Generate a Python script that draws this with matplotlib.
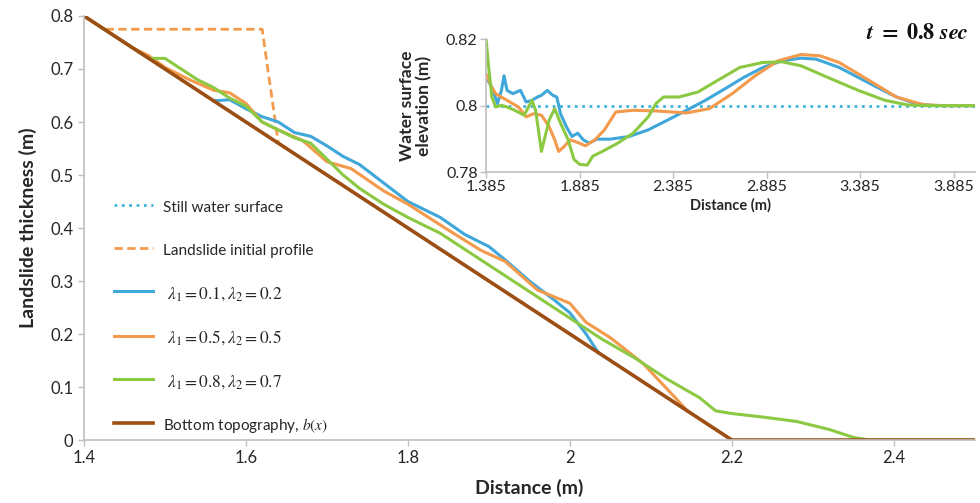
import matplotlib
matplotlib.use("Agg")
import matplotlib.pyplot as plt

plt.rcParams['font.family'] = ['Lato', 'DejaVu Sans']
plt.rcParams['mathtext.fontset'] = 'stix'

# ---------------- main panel data ----------------
bottom_x = [1.40, 2.20, 2.50]
bottom_y = [0.80, 0.00, 0.00]

initial_x = [1.40, 1.425, 1.62, 1.64]
initial_y = [0.80, 0.775, 0.775, 0.56]

blue_x = [1.56, 1.58, 1.60, 1.62, 1.64, 1.66, 1.68, 1.70, 1.72, 1.74, 1.77, 1.80,
          1.84, 1.87, 1.90, 1.92, 1.95, 1.98, 2.00, 2.02, 2.035]
blue_y = [0.640, 0.642, 0.625, 0.610, 0.600, 0.580, 0.573, 0.555, 0.535, 0.520, 0.485, 0.450,
          0.420, 0.388, 0.365, 0.340, 0.300, 0.265, 0.240, 0.200, 0.165]

orange_x = [1.40, 1.46, 1.48, 1.50, 1.53, 1.56, 1.58, 1.60, 1.62, 1.64, 1.67, 1.70, 1.73,
            1.77, 1.80, 1.85, 1.89, 1.92, 1.96, 2.00, 2.02, 2.05, 2.09, 2.13, 2.145]
orange_y = [0.800, 0.740, 0.725, 0.703, 0.680, 0.660, 0.655, 0.635, 0.600, 0.585, 0.565, 0.525, 0.512,
            0.470, 0.445, 0.396, 0.358, 0.337, 0.283, 0.258, 0.222, 0.193, 0.145, 0.080, 0.055]

green_x = [1.40, 1.45, 1.48, 1.50, 1.52, 1.54, 1.56, 1.58, 1.60, 1.62, 1.64, 1.66, 1.68, 1.70,
           1.72, 1.74, 1.77, 1.80, 1.84, 1.88, 1.92, 1.96, 2.00, 2.04, 2.08, 2.12, 2.16, 2.18,
           2.20, 2.24, 2.28, 2.32, 2.35, 2.37, 2.50]
green_y = [0.800, 0.750, 0.720, 0.720, 0.700, 0.680, 0.665, 0.645, 0.630, 0.600, 0.585, 0.570, 0.560, 0.530,
           0.500, 0.475, 0.445, 0.420, 0.390, 0.350, 0.310, 0.270, 0.230, 0.190, 0.155, 0.115, 0.080, 0.055,
           0.050, 0.043, 0.035, 0.020, 0.005, 0.000, 0.000]

main_xticks = [1.4, 1.6, 1.8, 2.0, 2.2, 2.4]
main_xticklabels = ["1.4", "1.6", "1.8", "2", "2.2", "2.4"]
main_yticks = [0.0, 0.1, 0.2, 0.3, 0.4, 0.5, 0.6, 0.7, 0.8]
main_yticklabels = ["0", "0.1", "0.2", "0.3", "0.4", "0.5", "0.6", "0.7", "0.8"]

# ---------------- inset data ----------------
still_x = [1.385, 4.0]
still_y = [0.80, 0.80]

in_blue_x = [1.385, 1.416, 1.446, 1.467, 1.481, 1.497, 1.528, 1.569, 1.599, 1.630, 1.660, 1.681,
             1.712, 1.742, 1.763, 1.783, 1.814, 1.844, 1.875, 1.905, 1.936, 1.977, 2.048, 2.150,
             2.252, 2.354, 2.457, 2.558, 2.660, 2.763, 2.865, 2.967, 3.069, 3.150, 3.273, 3.375,
             3.477, 3.579, 3.681, 3.783, 4.0]
in_blue_y = [0.8085, 0.8055, 0.8006, 0.8046, 0.8090, 0.8046, 0.8036, 0.8046, 0.8011, 0.8016, 0.8026, 0.8031,
             0.8046, 0.8031, 0.8026, 0.7976, 0.7937, 0.7907, 0.7917, 0.7897, 0.7887, 0.7899, 0.7899, 0.7907,
             0.7927, 0.7956, 0.7986, 0.8016, 0.8050, 0.8085, 0.8115, 0.8135, 0.8143, 0.8140, 0.8115, 0.8085,
             0.8055, 0.8026, 0.8006, 0.8000, 0.8000]

in_orange_x = [1.385, 1.416, 1.436, 1.497, 1.558, 1.599, 1.640, 1.681, 1.722, 1.752, 1.773, 1.803,
               1.834, 1.875, 1.916, 1.967, 2.018, 2.079, 2.171, 2.293, 2.457, 2.579, 2.701, 2.824,
               2.946, 3.069, 3.171, 3.273, 3.436, 3.579, 3.722, 3.824, 4.0]
in_orange_y = [0.8095, 0.8055, 0.8036, 0.8016, 0.7996, 0.7966, 0.7976, 0.7971, 0.7937, 0.7897, 0.7862, 0.7877,
               0.7897, 0.7889, 0.7879, 0.7897, 0.7927, 0.7981, 0.7986, 0.7984, 0.7978, 0.7991, 0.8036, 0.8090,
               0.8135, 0.8154, 0.8150, 0.8130, 0.8075, 0.8026, 0.8003, 0.8000, 0.8000]

in_green_x = [1.385, 1.399, 1.416, 1.436, 1.467, 1.497, 1.538, 1.589, 1.630, 1.650, 1.681, 1.722,
              1.752, 1.783, 1.824, 1.855, 1.885, 1.926, 1.956, 2.007, 2.089, 2.171, 2.252, 2.293,
              2.334, 2.416, 2.518, 2.620, 2.742, 2.865, 2.967, 3.069, 3.212, 3.375, 3.518, 3.640,
              3.742, 4.0]
in_green_y = [0.8200, 0.8115, 0.8026, 0.7996, 0.8001, 0.7996, 0.7986, 0.7971, 0.8016, 0.7986, 0.7862, 0.7956,
              0.7991, 0.7947, 0.7897, 0.7838, 0.7823, 0.7821, 0.7848, 0.7862, 0.7887, 0.7917, 0.7966, 0.8006,
              0.8026, 0.8026, 0.8041, 0.8075, 0.8115, 0.8130, 0.8132, 0.8120, 0.8085, 0.8046, 0.8016, 0.8002,
              0.8000, 0.8000]

inset_xticks = [1.385, 1.885, 2.385, 2.885, 3.385, 3.885]
inset_xticklabels = ["1.385", "1.885", "2.385", "2.885", "3.385", "3.885"]
inset_yticks = [0.78, 0.80, 0.82]
inset_yticklabels = ["0.78", "0.8", "0.82"]

labels = ["Still water surface", "Landslide initial profile",
          r"$\ \lambda_1 = 0.1, \lambda_2 = 0.2$",
          r"$\ \lambda_1 = 0.5, \lambda_2 = 0.5$",
          r"$\ \lambda_1 = 0.8, \lambda_2 = 0.7$",
          r"Bottom topography, $b(x)$"]

C_BLUE = "#3fa7d9"
C_ORANGE = "#f39a4c"
C_GREEN = "#8cc943"
C_BROWN = "#9c4f14"
C_STILL = "#3fb3dc"
AX_GRAY = "#bfbfbf"
TXT = "#262626"

fig = plt.figure(figsize=(9.8, 5.03), dpi=100)
ax = fig.add_axes([0.0857, 0.1252, 0.909, 0.843])

h_still, = ax.plot([], [], ls=":", color=C_STILL, lw=2)
h_init, = ax.plot(initial_x, initial_y, ls=(0, (3, 1.6)), color=C_ORANGE, lw=2)
h_blue, = ax.plot(blue_x, blue_y, color=C_BLUE, lw=2.2)
h_orange, = ax.plot(orange_x, orange_y, color=C_ORANGE, lw=2.2)
h_green, = ax.plot(green_x, green_y, color=C_GREEN, lw=2.2)
h_bottom, = ax.plot(bottom_x, bottom_y, color=C_BROWN, lw=2.6)

ax.set_xlim(1.4, 2.5)
ax.set_ylim(0, 0.8)
ax.set_xticks(main_xticks)
ax.set_xticklabels(main_xticklabels)
ax.set_yticks(main_yticks)
ax.set_yticklabels(main_yticklabels)
for s in ["top", "right"]:
    ax.spines[s].set_visible(False)
for s in ["left", "bottom"]:
    ax.spines[s].set_color(AX_GRAY)
    ax.spines[s].set_linewidth(1.2)
ax.tick_params(axis="both", colors=AX_GRAY, labelcolor=TXT, labelsize=12, length=4, width=1)
ax.set_xlabel("Distance (m)", fontsize=14, fontweight="bold", color=TXT, labelpad=9)
ax.set_ylabel("Landslide thickness (m)", fontsize=14, fontweight="bold", color=TXT, labelpad=10)

leg = ax.legend([h_still, h_init, h_blue, h_orange, h_green, h_bottom], labels,
                loc="upper left", bbox_to_anchor=(0.018, 0.602), frameon=False,
                fontsize=11, labelspacing=1.66, handlelength=2.55, handletextpad=0.65,
                handleheight=1.4)
for i, t in enumerate(leg.get_texts()):
    t.set_color(TXT)
    if i in (2, 3, 4):
        t.set_fontsize(12.5)

# ---------------- inset ----------------
ins = fig.add_axes([0.496, 0.658, 0.499, 0.264])
ins.patch.set_alpha(0)
ins.plot(still_x, still_y, ls=":", color=C_STILL, lw=2)
ins.plot(in_blue_x, in_blue_y, color=C_BLUE, lw=2.2)
ins.plot(in_orange_x, in_orange_y, color=C_ORANGE, lw=2.2)
ins.plot(in_green_x, in_green_y, color=C_GREEN, lw=2.2)
ins.set_xlim(1.385, 4.0)
ins.set_ylim(0.78, 0.82)
ins.set_xticks(inset_xticks)
ins.set_xticklabels(inset_xticklabels)
ins.set_yticks(inset_yticks)
ins.set_yticklabels(inset_yticklabels)
for s in ["top", "right"]:
    ins.spines[s].set_visible(False)
for s in ["left", "bottom"]:
    ins.spines[s].set_color(AX_GRAY)
    ins.spines[s].set_linewidth(1.2)
ins.tick_params(axis="both", colors=AX_GRAY, labelcolor=TXT, labelsize=11.5, length=4, width=1,
                pad=2)
ins.set_xlabel("Distance (m)", fontsize=10.5, fontweight="bold", color=TXT, labelpad=3)
ins.set_ylabel("Water surface\nelevation (m)", fontsize=12.5, fontweight="bold", color=TXT,
               labelpad=10, linespacing=1.05)

tlabel = fig.text(0.988, 0.934, r"$\mathbfit{t}\ \mathbf{=\ 0.8}\ \mathbfit{sec}$", fontsize=16,
                  ha="right", va="center", color="#111111")
try:
    fig.canvas.draw()
except Exception:
    tlabel.set_text("t = 0.8 sec")
    tlabel.set_fontfamily("Liberation Serif")
    tlabel.set_fontweight("bold")
    tlabel.set_fontstyle("italic")
    tlabel.set_fontsize(15)

fig.savefig("out.png", dpi=100)
